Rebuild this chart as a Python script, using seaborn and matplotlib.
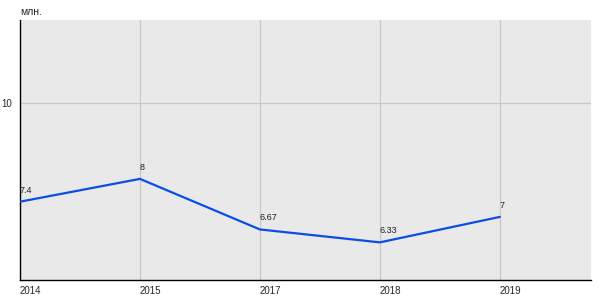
import matplotlib
matplotlib.use("Agg")
import matplotlib.pyplot as plt
import seaborn as sns
import pandas as pd

years = ["2014", "2015", "2017", "2018", "2019"]
values = [7.4, 8.0, 6.67, 6.33, 7.0]
value_labels = ["7.4", "8", "6.67", "6.33", "7"]
y_ticks = [10]
unit_label = "млн."

sns.set_style("white")
plt.rcParams['font.family'] = ['Liberation Sans', 'DejaVu Sans']

df = pd.DataFrame({"x": range(len(years)), "year": years, "value": values})

fig = plt.figure(figsize=(6, 3), dpi=100)
ax = fig.add_axes([20/600, 1 - 280/300, 571/600, 260/300])
ax.set_facecolor("#e9e9e9")

sns.lineplot(data=df, x="x", y="value", ax=ax, color="#0a4ee6", linewidth=1.6, zorder=3)

for i, (v, lab) in enumerate(zip(values, value_labels)):
    ax.annotate(lab, (i, v), xytext=(0, 5), textcoords="offset points",
                ha="left", va="bottom", fontsize=6.5, color="#222222", zorder=4)

ax.set_xlim(0, 4.76)
ax.set_ylim(5.34, 12.18)
ax.set_xticks(range(len(years)))
ax.set_xticklabels(years, ha="left", fontsize=7)
ax.set_yticks(y_ticks)
ax.set_yticklabels([str(t) for t in y_ticks], fontsize=7)
ax.tick_params(axis="x", length=0, pad=4)
ax.tick_params(axis="y", length=4, width=0.8, color="black", pad=2)
ax.grid(True, color="#c8c8c8", linewidth=0.9)
ax.set_axisbelow(True)
ax.set_xlabel("")
ax.set_ylabel("")
for s in ["top", "right"]:
    ax.spines[s].set_visible(False)
for s in ["left", "bottom"]:
    ax.spines[s].set_color("black")
    ax.spines[s].set_linewidth(1)

fig.text(20/600, 1 - 12/300, unit_label, fontsize=7.5, ha="left", va="center")

fig.savefig("out.png", dpi=100)
